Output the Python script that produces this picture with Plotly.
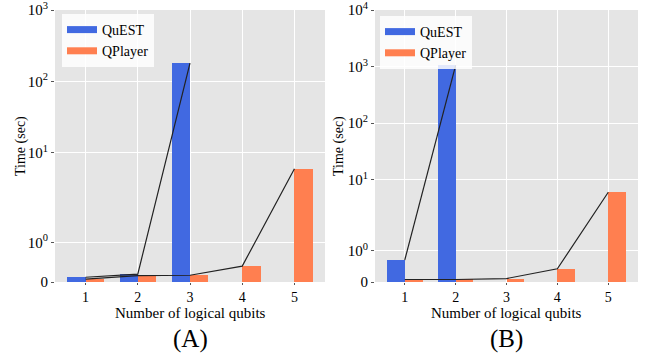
import math
import plotly.graph_objects as go

# ---------------- data ----------------
qubits = [1, 2, 3, 4, 5]
x_tick_labels = ["1", "2", "3", "4", "5"]

quest_a = [0.12, 0.20, 181.0, None, None]
qplayer_a = [0.075, 0.16, 0.17, 0.40, 6.0]

quest_b = [0.70, 1050.0, None, None, None]
qplayer_b = [0.08, 0.08, 0.11, 0.42, 6.0]

ytick_vals_a = [0, 1, 10, 100, 1000]
ytick_text_a = ["0", "10<sup>0</sup>", "10<sup>1</sup>", "10<sup>2</sup>", "10<sup>3</sup>"]
ytick_vals_b = [0, 1, 10, 100, 1000, 10000]
ytick_text_b = ["0", "10<sup>0</sup>", "10<sup>1</sup>", "10<sup>2</sup>", "10<sup>3</sup>", "10<sup>4</sup>"]

series_names = ["QuEST", "QPlayer"]
panel_labels = ["(A)", "(B)"]

# ---------------- symlog scale (linthresh=2, linscale=1) ----------------
LINTHRESH = 2.0
C = 1.0 / (1.0 - 1.0 / 10.0)


def symlog(v):
    if v is None:
        return None
    if v <= LINTHRESH:
        return v * C / LINTHRESH
    return C + math.log10(v / LINTHRESH)


def tr(vals):
    return [symlog(v) for v in vals]


BLUE = "#4169E1"
ORANGE = "#FF7F50"
LINE = "#222222"
FONT = "Liberation Serif"
BG = "#E5E5E5"

W, H = 645, 359
ML, MR, MT, MB = 55, 7, 10, 77
PW, PH = W - ML - MR, H - MT - MB


def px2x(p):
    return (p - ML) / PW


def py2y(p):
    return 1 - (p - MT) / PH


fig = go.Figure()

panels = [
    dict(q=quest_a, p=qplayer_a, xa="x", ya="y", legend="legend"),
    dict(q=quest_b, p=qplayer_b, xa="x2", ya="y2", legend="legend2"),
]

for i, pn in enumerate(panels):
    fig.add_trace(go.Bar(x=qubits, y=tr(pn["q"]), width=0.35, offset=-0.35,
                         marker=dict(color=BLUE, line=dict(width=0)),
                         xaxis=pn["xa"], yaxis=pn["ya"], showlegend=False,
                         name=series_names[0]))
    fig.add_trace(go.Bar(x=qubits, y=tr(pn["p"]), width=0.35, offset=0.0,
                         marker=dict(color=ORANGE, line=dict(width=0)),
                         xaxis=pn["xa"], yaxis=pn["ya"], showlegend=False,
                         name=series_names[1]))
    qx = [x for x, v in zip(qubits, pn["q"]) if v is not None]
    qy = [symlog(v) for v in pn["q"] if v is not None]
    fig.add_trace(go.Scatter(x=qx, y=qy, mode="lines",
                             line=dict(color=LINE, width=1.2),
                             xaxis=pn["xa"], yaxis=pn["ya"], showlegend=False,
                             hoverinfo="skip"))
    px = [x for x, v in zip(qubits, pn["p"]) if v is not None]
    py = [symlog(v) for v in pn["p"] if v is not None]
    fig.add_trace(go.Scatter(x=px, y=py, mode="lines",
                             line=dict(color=LINE, width=1.2),
                             xaxis=pn["xa"], yaxis=pn["ya"], showlegend=False,
                             hoverinfo="skip"))
    for name, col in zip(series_names, [BLUE, ORANGE]):
        fig.add_trace(go.Scatter(x=[None], y=[None], mode="lines",
                                 line=dict(color=col, width=7), name=name,
                                 xaxis=pn["xa"], yaxis=pn["ya"],
                                 legend=pn["legend"]))

axis_common = dict(
    showline=False, zeroline=False, showgrid=True, gridcolor="white", gridwidth=1,
    ticks="outside", tickcolor="#555555", tickwidth=1, automargin=False,
)
xtickfont = dict(family=FONT, size=14, color="black")
ytickfont = dict(family=FONT, size=15, color="black")

EPS = 1.0005

layout = dict(
    width=W, height=H, margin=dict(l=ML, r=MR, t=MT, b=MB, autoexpand=False),
    paper_bgcolor="white", plot_bgcolor=BG,
    barmode="overlay", bargap=0,
    font=dict(family=FONT, color="black"),
    xaxis=dict(domain=[0, px2x(325)], range=[0.415, 5.585], tickvals=qubits, ticklen=2,
               ticktext=x_tick_labels, anchor="y", tickfont=xtickfont, **axis_common),
    yaxis=dict(domain=[0, 1], range=[0, symlog(1000) * EPS], tickvals=tr(ytick_vals_a), ticklen=3,
               ticktext=ytick_text_a, anchor="x", tickfont=ytickfont, **axis_common),
    xaxis2=dict(domain=[px2x(375), 1], range=[0.415, 5.585], tickvals=qubits, ticklen=2,
                ticktext=x_tick_labels, anchor="y2", tickfont=xtickfont, **axis_common),
    yaxis2=dict(domain=[0, 1], range=[0, symlog(10000) * EPS], tickvals=tr(ytick_vals_b), ticklen=3,
                ticktext=ytick_text_b, anchor="x2", tickfont=ytickfont, **axis_common),
    legend=dict(x=px2x(62), y=py2y(14), xanchor="left", yanchor="top",
                bgcolor="rgba(255,255,255,0.85)", borderwidth=0,
                font=dict(family=FONT, size=14, color="black"), tracegroupgap=0),
    legend2=dict(x=px2x(380), y=py2y(16), xanchor="left", yanchor="top",
                 bgcolor="rgba(255,255,255,0.85)", borderwidth=0,
                 font=dict(family=FONT, size=14, color="black"), tracegroupgap=0),
)
fig.update_layout(**layout)

ann = []
for xc, ylab_x, lab in [((55 + 325) / 2, 21, panel_labels[0]), ((375 + 638) / 2, 339, panel_labels[1])]:
    ann.append(dict(x=px2x(xc), y=py2y(313), xref="paper", yref="paper",
                    text="Number of logical qubits", showarrow=False,
                    font=dict(family=FONT, size=15, color="black"),
                    xanchor="center", yanchor="middle"))
    ann.append(dict(x=px2x(xc), y=py2y(339), xref="paper", yref="paper",
                    text=lab, showarrow=False,
                    font=dict(family=FONT, size=25, color="black"),
                    xanchor="center", yanchor="middle"))
    ann.append(dict(x=px2x(ylab_x), y=py2y(146), xref="paper", yref="paper",
                    text="Time (sec)", showarrow=False, textangle=-90,
                    font=dict(family=FONT, size=14, color="black"),
                    xanchor="center", yanchor="middle"))
fig.update_layout(annotations=ann)

fig.write_html("out.html", config={"displayModeBar": False},
               post_script="document.body.style.margin='0';")
